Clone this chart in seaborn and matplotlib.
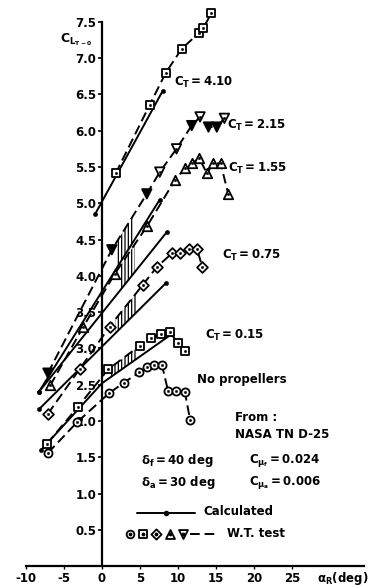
import numpy as np
import pandas as pd
import matplotlib
matplotlib.use("Agg")
import matplotlib.pyplot as plt
import seaborn as sns

sns.set_theme(style="white")
plt.rcParams['font.family'] = ['DejaVu Sans']
plt.rcParams['hatch.linewidth'] = 0.9
plt.rcParams['mathtext.fontset'] = 'dejavusans'

# ---------------- data ----------------
alpha_noprop = [-7.1, -3.3, 0.9, 2.9, 4.9, 5.9, 6.9, 7.9, 8.7, 9.8, 10.9, 11.6]
cl_noprop = [1.56, 1.98, 2.38, 2.53, 2.67, 2.74, 2.77, 2.77, 2.41, 2.42, 2.40, 2.01]

alpha_ct015 = [-7.2, -3.2, 0.8, 5.0, 6.5, 7.8, 8.9, 10.0, 10.9]
cl_ct015 = [1.69, 2.19, 2.71, 3.04, 3.15, 3.20, 3.23, 3.07, 2.96]

alpha_ct075 = [-7.1, -2.9, 1.0, 5.4, 7.2, 9.2, 10.3, 11.4, 12.5, 13.2]
cl_ct075 = [2.10, 2.72, 3.30, 3.88, 4.12, 4.31, 4.31, 4.37, 4.37, 4.12]

alpha_ct155 = [-6.8, -2.5, 1.7, 5.9, 9.6, 10.9, 11.8, 12.8, 13.8, 14.6, 15.6, 16.6]
cl_ct155 = [2.49, 3.29, 4.03, 4.68, 5.32, 5.48, 5.55, 5.62, 5.41, 5.55, 5.55, 5.13]

alpha_ct215 = [-7.1, 1.3, 5.9, 7.6, 9.8, 11.8, 12.9, 14.0, 15.1, 16.1]
cl_ct215 = [2.66, 4.36, 5.13, 5.43, 5.75, 6.07, 6.19, 6.05, 6.05, 6.17]
filled_ct215 = [True, True, True, False, False, True, False, True, True, False]

alpha_ct410 = [1.8, 6.3, 8.4, 10.5, 12.7, 13.3, 14.4]
cl_ct410 = [5.41, 6.36, 6.80, 7.13, 7.34, 7.41, 7.62]

# calculated (solid) lines
calc_a_015 = [-8.0, 0.0, 9.2]
calc_c_015 = [1.60, 2.52, 3.20]
calc_a_075 = [-8.3, 8.4]
calc_c_075 = [2.16, 3.90]
calc_a_155 = [-8.3, 8.5]
calc_c_155 = [2.40, 4.60]
calc_a_215 = [-8.3, 7.6]
calc_c_215 = [2.40, 5.05]
calc_a_410 = [-0.9, 8.0]
calc_c_410 = [4.85, 6.55]

# hatched ranges (alpha) between calculated and test curves
hatch_015 = [1.0, 4.6]
hatch_075 = [1.8, 4.6]
hatch_155 = [2.3, 4.3]
hatch_215 = [2.0, 4.2]

x_ticks = [-10, -5, 0, 5, 10, 15, 20, 25]
y_ticks = [0.5, 1.0, 1.5, 2.0, 2.5, 3.0, 3.5, 4.0, 4.5, 5.0, 5.5, 6.0, 6.5, 7.0, 7.5]

# ---------------- figure ----------------
fig = plt.figure(figsize=(3.72, 5.88), dpi=100)
ax = fig.add_axes([0, 0, 1, 1])
ax.set_xlim(-13.4, 35.5)
ax.set_ylim(-0.30, 7.80)
ax.set_facecolor('white')

LW = 1.4
dash = (0, (5, 2.5))

# calculated lines
for a, c in [(calc_a_015, calc_c_015), (calc_a_075, calc_c_075), (calc_a_155, calc_c_155),
             (calc_a_215, calc_c_215), (calc_a_410, calc_c_410)]:
    sns.lineplot(x=a, y=c, sort=False, color='black', lw=LW, ax=ax, zorder=2)
    sns.scatterplot(x=[a[0], a[-1]], y=[c[0], c[-1]], marker='o', s=10, color='black',
                    edgecolor='black', ax=ax, zorder=2)

# test lines
tests = [
    (alpha_noprop, cl_noprop, 'o'),
    (alpha_ct015, cl_ct015, 's'),
    (alpha_ct075, cl_ct075, 'D'),
    (alpha_ct155, cl_ct155, '^'),
    (alpha_ct215, cl_ct215, 'v'),
    (alpha_ct410, cl_ct410, 's'),
]
for a, c, m in tests:
    sns.lineplot(x=a, y=c, sort=False, color='black', lw=LW, linestyle=dash, ax=ax, zorder=2)

# hatched regions
for rng, (ca, cc), (ta, tc) in [
        (hatch_015, (calc_a_015, calc_c_015), (alpha_ct015, cl_ct015)),
        (hatch_075, (calc_a_075, calc_c_075), (alpha_ct075, cl_ct075)),
        (hatch_155, (calc_a_155, calc_c_155), (alpha_ct155, cl_ct155)),
        (hatch_215, (calc_a_215, calc_c_215), (alpha_ct215, cl_ct215))]:
    xs = np.linspace(rng[0], rng[1], 30)
    lo = np.interp(xs, ca, cc)
    hi = np.interp(xs, ta, tc)
    ax.fill_between(xs, lo, hi, facecolor='none', edgecolor='black', hatch='|||||',
                    linewidth=0, zorder=1)

# markers
sizes = {'o': 34, 's': 36, 'D': 30, '^': 46, 'v': 46}
for a, c, m in tests:
    if m == 'v':
        fc = ['black' if f else 'white' for f in filled_ct215]
        ax.scatter(a, c, marker=m, s=sizes[m], facecolors=fc, edgecolors='black',
                   linewidths=1.3, zorder=4)
    else:
        sns.scatterplot(x=a, y=c, marker=m, s=sizes[m], color='white', edgecolor='black',
                        linewidth=1.3, ax=ax, zorder=4)
    sns.scatterplot(x=a, y=c, marker='o', s=3, color='black', edgecolor='black',
                    linewidth=0.3, ax=ax, zorder=5)

# ---------------- axes ----------------
for s in ['top', 'right']:
    ax.spines[s].set_visible(False)
ax.spines['left'].set_position(('data', 0))
ax.spines['bottom'].set_position(('data', 0))
ax.spines['left'].set_bounds(0, 7.5)
ax.spines['bottom'].set_bounds(-10, 34.5)
for s in ['left', 'bottom']:
    ax.spines[s].set_color('black')
    ax.spines[s].set_linewidth(1.6)

ax.set_yticks(y_ticks)
ax.set_yticklabels([f"{v:.1f}" for v in y_ticks], fontsize=8.5, fontweight='bold')
ax.set_xticks(x_ticks)
ax.set_xticklabels([str(v) for v in x_ticks], fontsize=8.5, fontweight='bold')
ax.tick_params(axis='y', direction='out', length=3, width=1.2, color='black', pad=1,
               left=True, labelcolor='black')
ax.tick_params(axis='x', direction='out', length=2, width=1.0, color='black', pad=2,
               bottom=True, labelcolor='black')
ax.grid(False)

ax.text(28.3, -0.17, r'$\mathbf{\alpha_R}$' + '(deg)', fontsize=8.5, fontweight='bold',
        ha='left', va='center', color='black')
ax.text(-5.5, 7.25, r'$\mathbf{C_{L_{T-0}}}$', fontsize=9, ha='left', va='center',
        color='black')

fs = 8.5
kw = dict(fontsize=fs, ha='left', va='center', color='black')
ax.text(9.5, 6.67, r'$\mathbf{C_T = 4.10}$', **kw)
ax.text(16.4, 6.07, r'$\mathbf{C_T = 2.15}$', **kw)
ax.text(16.6, 5.48, r'$\mathbf{C_T = 1.55}$', **kw)
ax.text(15.8, 4.28, r'$\mathbf{C_T = 0.75}$', **kw)
ax.text(13.6, 3.18, r'$\mathbf{C_T = 0.15}$', **kw)
ax.text(12.5, 2.57, 'No propellers', fontweight='bold', **kw)
ax.text(17.5, 2.05, 'From :', fontweight='bold', **kw)
ax.text(17.5, 1.82, 'NASA TN D-25', fontweight='bold', **kw)
ax.text(5.2, 1.46, r'$\mathbf{\delta_f = 40\ deg}$', **kw)
ax.text(5.2, 1.16, r'$\mathbf{\delta_a = 30\ deg}$', **kw)
ax.text(19.3, 1.46, r'$\mathbf{C_{\mu_f} = 0.024}$', **kw)
ax.text(19.3, 1.16, r'$\mathbf{C_{\mu_a} = 0.006}$', **kw)

# legend glyphs
ax.plot([4.6, 12.2], [0.73, 0.73], color='black', lw=LW)
ax.plot([8.4], [0.73], marker='o', ms=3, color='black')
ax.text(13.3, 0.75, 'Calculated', fontweight='bold', **kw)
leg_x = [3.7, 5.4, 7.1, 8.9, 10.7]
for xx, m in zip(leg_x, ['o', 's', 'D', '^', 'v']):
    ax.scatter([xx], [0.44], marker=m, s=sizes[m] * 0.9, facecolors='white',
               edgecolors='black', linewidths=1.3, zorder=4)
    ax.scatter([xx], [0.44], marker='o', s=3, color='black', zorder=5)
ax.plot([11.6, 15.3], [0.44, 0.44], color='black', lw=LW, linestyle=dash)
ax.text(16.4, 0.45, 'W.T. test', fontweight='bold', **kw)

fig.savefig('out.png', dpi=100)
